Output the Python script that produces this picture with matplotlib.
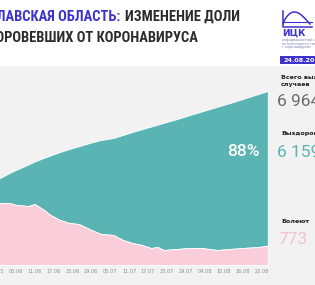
import numpy as np
import pandas as pd
import matplotlib
matplotlib.use("Agg")
from matplotlib import pyplot as plt
from matplotlib import font_manager as fm
from matplotlib.patches import Rectangle

# данные (ярославская область, 2020)
dates = ["30.05", "31.05", "03.06", "05.06", "09.06", "11.06", "14.06", "16.06",
         "19.06", "22.06", "25.06", "29.06", "02.07", "06.07", "09.07", "12.07",
         "15.07", "18.07", "20.07", "22.07", "26.07", "30.07", "03.08", "08.08",
         "12.08", "16.08", "21.08", "24.08"]
total = [3420, 3480, 3680, 3800, 4020, 4140, 4290, 4380,
         4520, 4640, 4750, 4900, 5000, 5080, 5200, 5320,
         5430, 5540, 5610, 5690, 5830, 5990, 6140, 6330,
         6480, 6640, 6840, 6964]
active = [2480, 2480, 2480, 2400, 2360, 2440, 2200, 2000,
          1800, 1680, 1640, 1400, 1240, 1200, 1000, 880,
          800, 680, 720, 600, 640, 680, 680, 600,
          640, 680, 720, 773]
tick_labels = ["30.05", "05.06", "11.06", "17.06", "23.06", "29.06", "05.07",
               "11.07", "17.07", "23.07", "29.07", "04.08", "10.08", "16.08", "22.08"]

total_cases = "6 964"
recovered_cases = "6 159"
sick_cases = "773"
share = "88%"

W, H = 315, 285
BG = "#f2f2f2"
TEAL = "#5bb4b4"
PINK = "#f9cdd9"
BLUE = "#3d32cc"
DARK = "#2b2b2b"


def to_dt(s):
    return pd.to_datetime(s + ".2020", format="%d.%m.%Y")


def px(x, y):
    # пиксели (от левого верхнего угла) -> доли фигуры
    return x / W, 1 - y / H


def title_font():
    # ищем узкий жирный шрифт, если такого нет - Roboto Bold
    good = ("condensed", "semi-condensed", "extra-condensed", "ultra-condensed")
    found = []
    for f in fm.fontManager.ttflist:
        try:
            w = int(f.weight)
        except (TypeError, ValueError):
            w = 700 if "bold" in str(f.weight) else 400
        if f.stretch in good and w >= 600 and f.style == "normal":
            found.append(f)
    pref = ["Liberation Sans Narrow", "Roboto Condensed", "Noto Sans", "Open Sans", "DejaVu Sans"]
    for name in pref:
        for f in found:
            if f.name == name:
                return fm.FontProperties(fname=f.fname)
    if found:
        return fm.FontProperties(fname=found[0].fname)
    return fm.FontProperties(family="Roboto", weight="bold")


x = [to_dt(d) for d in dates]
ticks = [to_dt(d) for d in tick_labels]

fig = plt.figure(figsize=(W / 100, H / 100), dpi=100, facecolor=BG)
fig.patches.append(Rectangle((0, 1 - 66 / H), 1, 66 / H, transform=fig.transFigure,
                             facecolor="white", edgecolor="none", zorder=0))

ax = fig.add_axes([-3.15 / W, 20 / H, 270.9 / W, 200 / H])
ax.set_facecolor("none")
ax.fill_between(x, active, total, color=TEAL, edgecolor="white", linewidth=0.6)
ax.fill_between(x, 0, active, color=PINK, edgecolor="white", linewidth=0.6)
ax.set_xlim(x[0], x[-1])
ax.set_ylim(0, 8000)
ax.set_yticks([])
ax.set_xticks(ticks)
ax.set_xticklabels(tick_labels)
ax.tick_params(axis="x", length=0, pad=3, labelsize=3.6, labelcolor="#8c8c8c")
for s in ax.spines.values():
    s.set_visible(False)

# заголовок
tf = title_font()
t1 = fig.text(*px(121, 21), "ЯРОСЛАВСКАЯ ОБЛАСТЬ:", ha="right", va="baseline",
              color=BLUE, fontproperties=tf, fontsize=10)
t2 = fig.text(*px(125, 21), "ИЗМЕНЕНИЕ ДОЛИ", ha="left", va="baseline",
              color=DARK, fontproperties=tf, fontsize=10)
t3 = fig.text(*px(198, 42), "ВЫЗДОРОВЕВШИХ ОТ КОРОНАВИРУСА", ha="right", va="baseline",
              color=DARK, fontproperties=tf, fontsize=10)
r = fig.canvas.get_renderer()
wid = t2.get_window_extent(r).width
size = min(11.0, 10 * 106 / wid * 1.08)
for t in (t1, t2, t3):
    t.set_fontsize(size)

# логотип
lx = [283, 283, 312]
ly = [11, 27, 27]
fig.add_artist(plt.Line2D([v / W for v in lx], [1 - v / H for v in ly],
                          color=BLUE, lw=1.1, transform=fig.transFigure))
t = np.linspace(0, 1, 30)
fig.add_artist(plt.Line2D([(283 + 27 * v) / W for v in t],
                          [1 - (24 - 12 * np.sin(np.pi * v ** 0.8)) / H for v in t],
                          color=BLUE, lw=1.1, transform=fig.transFigure))
fig.add_artist(plt.Line2D([283 / W, 312 / W], [1 - 22 / H, 1 - 22 / H],
                          color=BLUE, lw=0.8, transform=fig.transFigure))
fig.text(*px(282, 36), "ИЦК", ha="left", va="baseline", color=BLUE,
         fontsize=6.5, fontweight="bold", family="DejaVu Sans")
for i, line in enumerate(["информационный центр", "по мониторингу ситуации",
                          "с коронавирусом"]):
    fig.text(*px(282, 41 + i * 3.5), line, ha="left", va="baseline",
             color="#7a7fb0", fontsize=2.3, family="DejaVu Sans")
fig.patches.append(Rectangle((280 / W, 1 - 64 / H), 40 / W, 8 / H, transform=fig.transFigure,
                             facecolor=BLUE, edgecolor="none"))
fig.text(*px(284, 62.5), "24.08.2020", ha="left", va="baseline", color="white",
         fontsize=4.6, fontweight="bold", family="DejaVu Sans")

# правая панель
lab = dict(ha="left", va="baseline", color="#222222", fontsize=4.6,
           fontweight="bold", family="DejaVu Sans")
num = dict(ha="left", va="baseline", fontsize=12.5, family="Roboto")
fig.text(*px(281, 79), "Всего выявлено", **lab)
fig.text(*px(281, 86), "случаев", **lab)
fig.text(*px(277, 106), total_cases, color="#6b6b6b", **num)
fig.text(*px(281, 135), "Выздоровело", **lab)
fig.text(*px(277, 157), recovered_cases, color=TEAL, **num)
fig.text(*px(281, 223), "Болеют", **lab)
fig.text(*px(278, 244), sick_cases, color="#f4c2d0", **num)

fig.text(*px(243, 156), share, ha="center", va="baseline", color="white",
         fontsize=12.5, family="Roboto", fontweight="medium")

fig.savefig("out.png", dpi=100, facecolor=BG)
